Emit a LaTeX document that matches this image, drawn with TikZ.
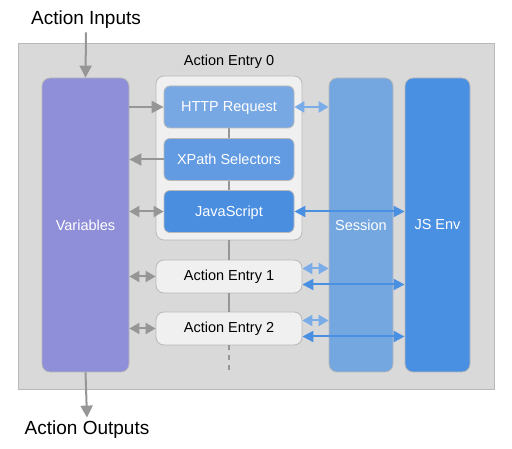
\documentclass[tikz,border=0pt]{standalone}
\usepackage{fontspec}
\setmainfont{Liberation Sans}
\usetikzlibrary{arrows.meta}
\definecolor{panelgray}{RGB}{217,217,217}
\definecolor{panelline}{RGB}{185,185,185}
\definecolor{entrygray}{RGB}{240,240,240}
\definecolor{linkgray}{RGB}{150,150,150}
\definecolor{varpurple}{RGB}{142,143,216}
\definecolor{httpblue}{RGB}{120,168,228}
\definecolor{xpathblue}{RGB}{98,155,226}
\definecolor{jsblue}{RGB}{74,142,224}
\definecolor{sessblue}{RGB}{116,166,224}
\definecolor{envblue}{RGB}{74,144,226}
\definecolor{lightarrow}{RGB}{122,172,232}

\begin{document}
\begin{tikzpicture}[x=1pt,y=-1pt,
    column/.style={rounded corners=8pt, draw=panelline, line width=0.8pt,
        minimum width=#1, minimum height=294pt, text=white,
        font=\fontsize{14.5}{16}\selectfont},
    stepbox/.style={rounded corners=6pt, draw=panelline, line width=0.8pt,
        minimum width=130pt, minimum height=42pt, text=white, text depth=0pt,
        font=\fontsize{14.5}{16}\selectfont},
    entrybox/.style={rounded corners=8pt, draw=panelline, line width=0.8pt,
        fill=entrygray, minimum width=146pt, minimum height=33pt,
        font=\fontsize{14.5}{16}\selectfont},
    grayarr/.style={draw=linkgray, line width=2pt,
        arrows={-Triangle[length=12pt,width=12pt]}},
    grayboth/.style={draw=linkgray, line width=2pt,
        arrows={Triangle[length=10pt,width=11pt]-Triangle[length=10pt,width=11pt]}},
    lightboth/.style={draw=lightarrow, line width=2pt,
        arrows={Triangle[length=10pt,width=11pt]-Triangle[length=10pt,width=11pt]}},
    darkboth/.style={draw=envblue, line width=2pt,
        arrows={Triangle[length=11pt,width=11pt]-Triangle[length=11pt,width=11pt]}},
    spine/.style={draw=linkgray, line width=2pt},
    title/.style={font=\fontsize{19}{21}\selectfont}]
    \useasboundingbox (0,0) rectangle (512,449);

    % outer panel
    \fill[panelgray, draw=panelline, line width=0.8pt] (18,43) rectangle (494,389);

    % columns
    \node[column=87pt, fill=varpurple] (vars) at (85.5,225) {Variables};
    \node[column=64pt, fill=sessblue] (session) at (361,225) {Session};
    \node[column=65pt, fill=envblue] (jsenv) at (437.5,225) {JS Env};

    % action entry 0 with its steps
    \node[rounded corners=8pt, draw=panelline, line width=0.8pt, fill=entrygray,
        minimum width=146pt, minimum height=164pt] (entry0) at (229,158) {};
    \node[font=\fontsize{14.5}{16}\selectfont] (entry0label) at (229,62) {Action Entry 0};
    \draw[spine] (229,128) -- (229,190);
    \node[stepbox, fill=httpblue] (http) at (229,107) {HTTP Request};
    \node[stepbox, fill=xpathblue] (xpath) at (229,159.5) {XPath Selectors};
    \node[stepbox, fill=jsblue] (js) at (229,211.5) {JavaScript};

    % further entries
    \node[entrybox] (entry1) at (229,276.5) {Action Entry 1};
    \node[entrybox] (entry2) at (229,328.5) {Action Entry 2};
    \draw[spine] (entry0.south) -- (entry1.north);
    \draw[spine] (entry1.south) -- (entry2.north);
    \coordinate (tail) at (229,372);
    \draw[spine, dash pattern=on 5pt off 5pt] (entry2.south) -- (tail);

    % links to the variables
    \draw[grayarr] (vars.east |- http) -- (http.west);
    \draw[grayarr] (xpath.west) -- (vars.east |- xpath);
    \draw[grayboth] (vars.east |- js) -- (js.west);
    \draw[grayboth] (vars.east |- entry1) -- (entry1.west);
    \draw[grayboth] (vars.east |- entry2) -- (entry2.west);

    % links to session and js env
    \draw[lightboth] (http.east) -- (session.west |- http);
    \draw[darkboth] (js.east) -- (jsenv.west |- js);
    \coordinate (e1up) at ([yshift=8pt]entry1.east);
    \coordinate (e1dn) at ([yshift=-8pt]entry1.east);
    \coordinate (e2up) at ([yshift=8pt]entry2.east);
    \coordinate (e2dn) at ([yshift=-8pt]entry2.east);
    \draw[lightboth] (e1up) -- (session.west |- e1up);
    \draw[darkboth] (e1dn) -- (jsenv.west |- e1dn);
    \draw[lightboth] (e2up) -- (session.west |- e2up);
    \draw[darkboth] (e2dn) -- (jsenv.west |- e2dn);

    % inputs and outputs
    \node[title] (inputs) at (86,20) {Action Inputs};
    \node[title] (outputs) at (87,430) {Action Outputs};
    \draw[grayarr] (inputs.south) -- (vars.north);
    \draw[grayarr] (vars.south) -- (outputs.north);
\end{tikzpicture}
\end{document}
